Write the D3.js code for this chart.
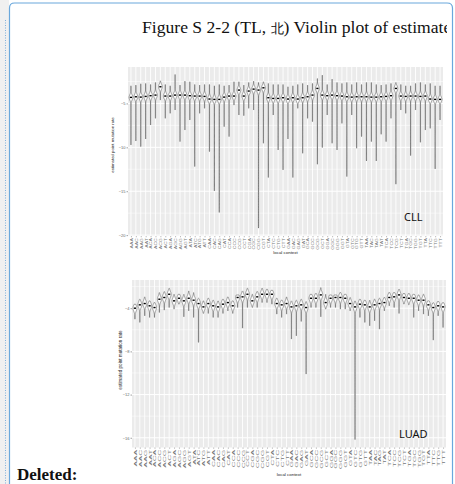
<!DOCTYPE html>
<html>
<head>
<meta charset="utf-8">
<script src="https://cdn.jsdelivr.net/npm/d3@7/dist/d3.min.js"></script>
<style>
  body { margin: 0; background: #fff; }
  svg { display: block; }
</style>
</head>
<body>
<svg id="page" width="455" height="484"></svg>
<script>
// trinucleotide contexts (x categories, same for both panels)
var contexts = ["AAA","AAC","AAG","AAT","ACA","ACC","ACG","ACT","AGA","AGC","AGG","AGT","ATA","ATC","ATG","ATT",
                "CAA","CAC","CAG","CAT","CCA","CCC","CCG","CCT","CGA","CGC","CGG","CGT","CTA","CTC","CTG","CTT",
                "GAA","GAC","GAG","GAT","GCA","GCC","GCG","GCT","GGA","GGC","GGG","GGT","GTA","GTC","GTG","GTT",
                "TAA","TAC","TAG","TAT","TCA","TCC","TCG","TCT","TGA","TGC","TGG","TGT","TTA","TTC","TTG","TTT"];

// CLL: top of violin, median, bottom of tail (log rate)
var cllTop = [-2.99,-2.91,-2.76,-2.72,-2.84,-2.61,-2.42,-2.84,-2.99,-1.70,-2.91,-2.46,-2.53,-2.84,-2.91,-2.84,
              -2.84,-2.99,-2.84,-2.99,-2.91,-2.53,-2.53,-2.91,-2.61,-2.46,-2.61,-2.53,-2.72,-2.84,-2.84,-2.84,
              -3.10,-2.99,-2.84,-2.72,-2.91,-2.72,-2.16,-1.78,-2.84,-2.23,-2.61,-2.72,-2.61,-2.84,-2.61,-2.84,
              -2.61,-2.61,-2.84,-2.91,-2.84,-2.72,-2.61,-2.84,-2.99,-2.99,-2.72,-2.61,-2.84,-2.72,-2.99,-2.99];
var cllMid = [-4.31,-4.24,-4.28,-4.20,-4.12,-4.05,-3.10,-4.16,-4.16,-4.05,-4.05,-4.05,-4.12,-4.16,-4.16,-4.20,
              -4.50,-4.54,-4.54,-4.28,-4.16,-4.16,-3.48,-4.16,-3.59,-3.37,-3.48,-3.22,-4.35,-4.43,-4.43,-4.35,
              -4.50,-4.35,-4.50,-4.35,-4.24,-4.05,-3.29,-4.05,-4.12,-4.05,-4.12,-4.16,-4.24,-4.28,-4.24,-4.24,
              -4.24,-4.28,-4.28,-4.24,-4.20,-4.12,-3.29,-4.16,-4.20,-4.16,-4.16,-4.20,-4.16,-4.50,-4.54,-4.54];
var cllLow = [-9.73,-9.28,-9.92,-9.05,-7.46,-6.70,-4.62,-6.70,-6.13,-5.75,-9.35,-8.03,-6.89,-12.19,-6.13,-5.56,
              -10.49,-14.96,-17.42,-7.65,-8.78,-5.19,-6.32,-6.40,-5.56,-5.75,-19.20,-9.54,-13.44,-6.32,-10.30,-12.57,
              -9.05,-13.44,-5.56,-10.68,-6.70,-7.08,-11.93,-10.03,-6.32,-9.54,-10.30,-7.27,-13.33,-6.32,-10.11,-8.78,
              -11.55,-9.35,-11.55,-8.52,-9.35,-6.70,-14.20,-5.75,-6.13,-10.94,-5.75,-9.43,-8.03,-7.84,-12.46,-6.89];

// LUAD
var luadTop = [-3.63,-3.17,-2.95,-3.32,-3.48,-2.55,-2.46,-2.15,-2.71,-2.71,-2.71,-2.40,-2.55,-3.08,-3.32,-3.08,
               -3.26,-3.32,-3.17,-2.95,-3.32,-2.77,-2.40,-2.15,-2.71,-2.46,-2.15,-2.24,-2.34,-3.08,-3.26,-2.95,
               -3.32,-3.26,-3.17,-3.38,-2.71,-2.64,-2.09,-2.71,-2.77,-2.77,-2.55,-2.71,-3.01,-3.32,-3.17,-3.26,
               -3.26,-3.17,-3.08,-3.01,-2.55,-2.55,-2.24,-2.64,-2.64,-2.71,-2.77,-2.71,-3.32,-3.48,-3.38,-3.48];
var luadMid = [-4.00,-3.69,-3.57,-3.78,-3.94,-3.17,-3.01,-2.71,-3.32,-3.08,-3.32,-3.08,-3.26,-3.57,-3.88,-3.57,
               -3.78,-3.88,-3.63,-3.48,-3.78,-3.01,-2.95,-2.71,-3.32,-2.95,-2.71,-2.71,-2.71,-3.57,-3.69,-3.57,
               -3.88,-3.78,-3.69,-3.94,-3.08,-3.08,-2.77,-3.48,-3.08,-3.01,-3.01,-3.08,-3.57,-3.88,-3.63,-3.69,
               -3.88,-3.69,-3.57,-3.48,-3.01,-2.95,-2.77,-3.01,-3.08,-3.08,-3.26,-3.26,-3.69,-3.94,-3.78,-3.88];
var luadLow = [-5.02,-5.32,-4.71,-4.86,-4.86,-4.40,-4.18,-3.94,-4.09,-3.63,-4.80,-4.25,-4.86,-7.17,-4.49,-4.49,
               -4.86,-4.86,-4.49,-4.25,-4.49,-3.94,-5.85,-3.94,-3.94,-3.94,-3.48,-3.48,-3.63,-4.55,-4.86,-4.55,
               -6.86,-6.56,-5.23,-10.10,-3.94,-3.94,-4.80,-4.09,-3.94,-3.94,-4.09,-4.09,-4.25,-16.17,-4.86,-5.32,
               -5.63,-5.17,-5.94,-4.25,-3.78,-3.94,-4.49,-3.63,-3.69,-4.86,-4.25,-4.55,-4.71,-6.96,-4.71,-5.79];

var cllTicks = [-5, -10, -15, -20];
var cllMinor = [-2.5, -7.5, -12.5, -17.5];
var luadTicks = [-4, -8, -12, -16];
var luadMinor = [-2, -6, -10, -14];

var svg = d3.select("#page");

// page chrome: grey margin, dotted guide, blue comment box
svg.append("rect").attr("x", 0).attr("y", 0).attr("width", 9).attr("height", 484).attr("fill", "#f0f0f0");
svg.append("line").attr("x1", 5.5).attr("x2", 5.5).attr("y1", 20).attr("y2", 484)
  .attr("stroke", "#7fb0dc").attr("stroke-width", 1).attr("stroke-dasharray", "1,1.5");
svg.append("path").attr("d", "M9.5,484 V8 Q9.5,3 14.5,3 H447 Q452.5,3 452.5,8 V484")
  .attr("fill", "none").attr("stroke", "#6aa8dc").attr("stroke-width", 1.2);

// the reference crops the title at the box edge
svg.append("clipPath").attr("id", "titleClip")
  .append("rect").attr("x", 10).attr("y", 5).attr("width", 437).attr("height", 40);
var title = svg.append("text")
  .attr("clip-path", "url(#titleClip)")
  .attr("x", 142).attr("y", 33)
  .attr("font-family", "'Liberation Serif', 'Times New Roman', serif")
  .attr("font-size", 17.6).attr("fill", "#111");
title.append("tspan").text("Figure S 2-2 (TL, ");
title.append("tspan").attr("font-size", 13).text("\u5317");
title.append("tspan").text(") Violin plot of estimate");

svg.append("text").attr("x", 17).attr("y", 480)
  .attr("font-family", "'Liberation Serif', 'Times New Roman', serif")
  .attr("font-weight", "bold").attr("font-size", 17).attr("fill", "#111")
  .text("Deleted:");

function drawPanel(cfg) {
  var g = svg.append("g");
  var x = d3.scalePoint().domain(contexts).range([cfg.left, cfg.right]).padding(0.6);
  var y = d3.scaleLinear().domain(cfg.domain).range([cfg.bottom, cfg.top]);

  g.append("rect").attr("x", cfg.left).attr("y", cfg.top)
    .attr("width", cfg.right - cfg.left).attr("height", cfg.bottom - cfg.top)
    .attr("fill", "#ebebeb");

  // grid
  g.selectAll(".minor").data(cfg.minor).enter().append("line")
    .attr("x1", cfg.left).attr("x2", cfg.right)
    .attr("y1", d => y(d)).attr("y2", d => y(d))
    .attr("stroke", "#fff").attr("stroke-width", 0.5);
  g.selectAll(".major").data(cfg.ticks).enter().append("line")
    .attr("x1", cfg.left).attr("x2", cfg.right)
    .attr("y1", d => y(d)).attr("y2", d => y(d))
    .attr("stroke", "#fff").attr("stroke-width", 1);
  g.selectAll(".vgrid").data(contexts).enter().append("line")
    .attr("x1", d => x(d)).attr("x2", d => x(d))
    .attr("y1", cfg.top).attr("y2", cfg.bottom)
    .attr("stroke", "#fff").attr("stroke-width", 0.9);

  // violins
  var rows = contexts.map((c, i) => ({ c: c, t: cfg.tops[i], m: cfg.mids[i], b: cfg.lows[i] }));
  rows.forEach(function (r) {
    var cx = x(r.c);
    var n = 90, pts = [];
    for (var k = 0; k <= n; k++) {
      var v = r.t + (r.b - r.t) * k / n;
      var f = Math.exp(-Math.pow((v - r.m) / cfg.spread, 2));
      var hw = (k === 0 || k === n) ? 0 : Math.max(cfg.halfWidth * f, 0.12);
      pts.push({ v: v, hw: hw });
    }
    var area = d3.area()
      .y(d => y(d.v))
      .x0(d => cx - d.hw)
      .x1(d => cx + d.hw);
    g.append("path").attr("d", area(pts))
      .attr("fill", "#fff").attr("stroke", "#222").attr("stroke-width", 0.4);
    g.append("rect").attr("x", cx - 1.1).attr("y", y(r.m) - 0.7)
      .attr("width", 2.2).attr("height", 1.4).attr("fill", "#000");
  });

  // axes
  var yAxis = g.append("g").attr("transform", "translate(" + cfg.left + ",0)")
    .call(d3.axisLeft(y).tickValues(cfg.ticks).tickSize(1.5).tickPadding(1).tickFormat(d3.format("d")));
  yAxis.select(".domain").remove();
  yAxis.selectAll("line").attr("stroke", "#444").attr("stroke-width", 0.5);
  yAxis.selectAll("text").attr("font-size", 4).attr("fill", "#666")
    .attr("font-family", "'Liberation Sans', Arial, sans-serif");

  // rotated context labels, stretched along their length like the scanned figure
  var xAxis = g.append("g").attr("transform", "translate(0," + cfg.bottom + ")")
    .call(d3.axisBottom(x).tickSize(1.3).tickPadding(1));
  xAxis.select(".domain").remove();
  xAxis.selectAll("line").attr("stroke", "#555").attr("stroke-width", 0.4);
  xAxis.selectAll("text")
    .attr("font-size", cfg.xLabelSize).attr("fill", "#777")
    .attr("font-family", "'Liberation Sans', Arial, sans-serif")
    .attr("transform", "rotate(-90) scale(" + cfg.labelStretch + ",1)")
    .attr("x", -2.2 / cfg.labelStretch).attr("y", 0).attr("dy", "0.35em")
    .attr("text-anchor", "end");

  g.append("text")
    .attr("x", (cfg.left + cfg.right) / 2).attr("y", cfg.xTitleY)
    .attr("text-anchor", "middle").attr("font-size", 4.4).attr("fill", "#222")
    .attr("font-family", "'Liberation Sans', Arial, sans-serif")
    .text("local context");

  g.append("text")
    .attr("transform", "translate(" + cfg.yTitleX + "," + cfg.yTitleY + ") rotate(-90)")
    .attr("text-anchor", "middle").attr("font-size", cfg.yTitleSize).attr("fill", "#222")
    .attr("font-family", "'Liberation Sans', Arial, sans-serif")
    .text("estimated point mutation rate");

  g.append("text")
    .attr("x", cfg.tagX).attr("y", cfg.tagY)
    .attr("font-size", 11).attr("fill", "#111")
    .attr("font-family", "'Noto Sans', 'Open Sans', sans-serif")
    .text(cfg.tag);
}

drawPanel({
  left: 128, right: 443, top: 67, bottom: 236,
  domain: [-20.1, -0.85], ticks: cllTicks, minor: cllMinor,
  tops: cllTop, mids: cllMid, lows: cllLow,
  spread: 0.42, halfWidth: 1.9, xLabelSize: 3.8, labelStretch: 1.35,
  xTitleY: 254, yTitleX: 114, yTitleY: 145, yTitleSize: 4.3,
  tag: "CLL", tagX: 404, tagY: 221
});

drawPanel({
  left: 132, right: 446, top: 280, bottom: 447.5,
  domain: [-16.9, -1.39], ticks: luadTicks, minor: luadMinor,
  tops: luadTop, mids: luadMid, lows: luadLow,
  spread: 0.4, halfWidth: 2.0, xLabelSize: 4.2, labelStretch: 2.0,
  xTitleY: 476, yTitleX: 122, yTitleY: 360, yTitleSize: 4.6,
  tag: "LUAD", tagX: 399, tagY: 438
});
</script>
</body>
</html>
